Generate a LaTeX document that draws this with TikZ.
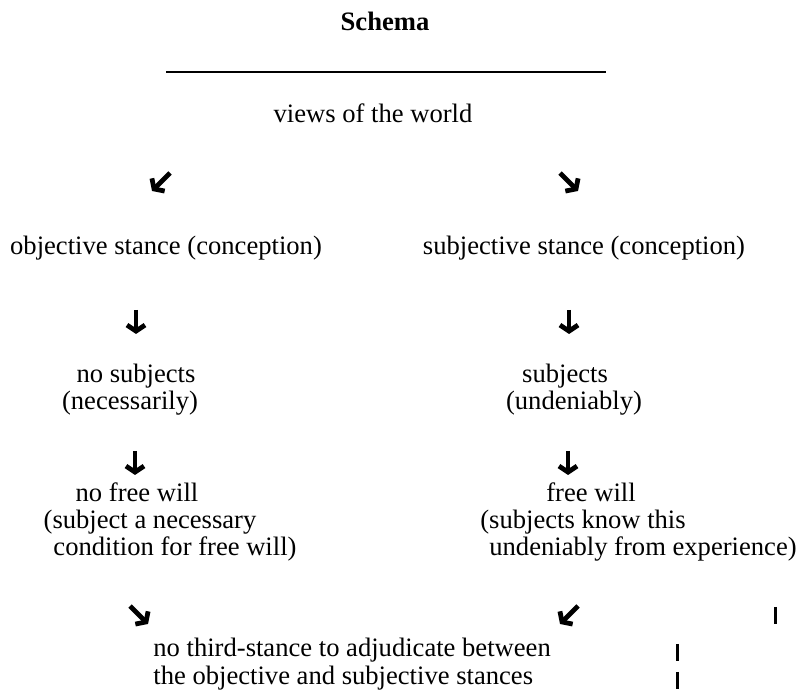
\documentclass[tikz,border=0pt]{standalone}
\usepackage{fontspec}
\setmainfont{Liberation Serif}
\usetikzlibrary{arrows.meta}
\begin{document}
\begin{tikzpicture}[x=0.5pt,y=-0.5pt,
        txt/.style = {inner sep=0pt,text height=0.68em,text depth=0.2em,
                      font=\fontsize{13.3pt}{15pt}\selectfont},
        title/.style = {txt,font=\fontsize{13.3pt}{15pt}\selectfont\bfseries},
        arrow/.style = {line width=2.4pt,-{Straight Barb[length=3pt,width=9pt]}},
        bar/.style = {line width=1.5pt}]
                \useasboundingbox (0,0) rectangle (798,694);

                \node[title] (schema) at (385,26) {Schema};
                \coordinate (ruleL) at (166,72);
                \coordinate (ruleR) at (606,72);
                \draw[line width=1.4pt] (ruleL) -- (ruleR);
                \node[txt] (views) at (373,118) {views of the world};

                \coordinate (a1s) at (170,173); \coordinate (a1e) at (152,191);
                \coordinate (a2s) at (560,173); \coordinate (a2e) at (578,191);
                \draw[arrow] (a1s) -- (a1e);
                \draw[arrow] (a2s) -- (a2e);

                \node[txt] (objstance) at (166,250) {objective stance (conception)};
                \node[txt] (substance) at (584,250) {subjective stance (conception)};

                \coordinate (a3s) at (136,310); \coordinate (a3e) at (136,334);
                \coordinate (a4s) at (569,310); \coordinate (a4e) at (569,334);
                \draw[arrow] (a3s) -- (a3e);
                \draw[arrow] (a4s) -- (a4e);

                \node[txt] (nosubj) at (136,378) {no subjects};
                \node[txt] (necess) at (130,405) {(necessarily)};
                \node[txt] (subj) at (565,378) {subjects};
                \node[txt] (undeni) at (574,405) {(undeniably)};

                \coordinate (a5s) at (135,451); \coordinate (a5e) at (135,475);
                \coordinate (a6s) at (568,451); \coordinate (a6e) at (568,475);
                \draw[arrow] (a5s) -- (a5e);
                \draw[arrow] (a6s) -- (a6e);

                \node[txt] (nofree) at (137,497) {no free will};
                \node[txt] (nofreeA) at (150,524) {(subject a necessary};
                \node[txt] (nofreeB) at (175,551) {condition for free will)};
                \node[txt] (free) at (591,497) {free will};
                \node[txt] (freeA) at (583,524) {(subjects know this};
                \node[txt] (freeB) at (643,551) {undeniably from experience)};

                \coordinate (a7s) at (130,606); \coordinate (a7e) at (148,624);
                \coordinate (a8s) at (578,606); \coordinate (a8e) at (560,624);
                \draw[arrow] (a7s) -- (a7e);
                \draw[arrow] (a8s) -- (a8e);

                \node[txt,anchor=west] (third) at (153,652) {no third-stance to adjudicate between};
                \node[txt,anchor=west] (thirdB) at (153,680) {the objective and subjective stances};

                \coordinate (b1s) at (775,607); \coordinate (b1e) at (775,624);
                \coordinate (b2s) at (677,644); \coordinate (b2e) at (677,661);
                \coordinate (b3s) at (677,672); \coordinate (b3e) at (677,689);
                \draw[bar] (b1s) -- (b1e);
                \draw[bar] (b2s) -- (b2e);
                \draw[bar] (b3s) -- (b3e);
\end{tikzpicture}
\end{document}
